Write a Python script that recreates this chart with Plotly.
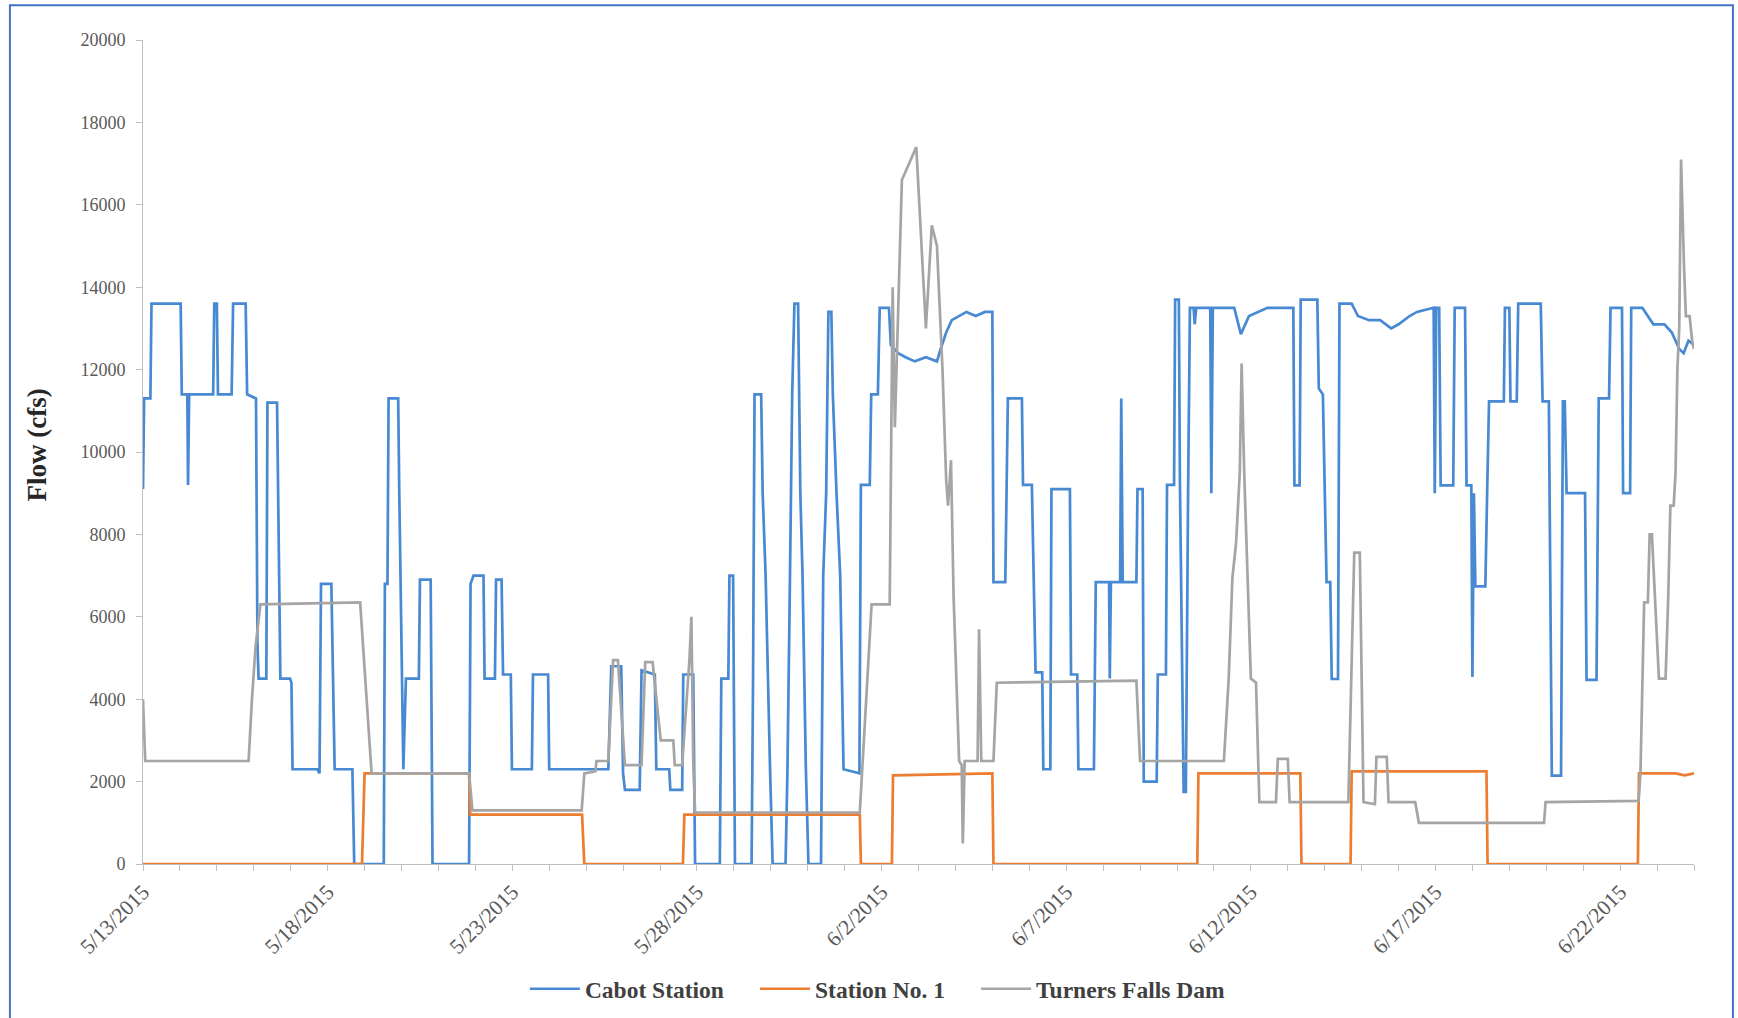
import pandas as pd
import plotly.graph_objects as go

# Flow records, 5/13/2015 - 6/24/2015.  Times are days after midnight 5/13/2015.
START = pd.Timestamp("2015-05-13")
END_DAYS = 42

cabot_days = [
    0.00, 0.03, 0.20, 0.23, 1.02, 1.05, 1.20, 1.22, 1.25, 1.90, 1.93, 2.00, 2.03,
    2.40, 2.44, 2.78, 2.82, 3.06, 3.10, 3.13, 3.34, 3.37, 3.63, 3.66, 3.72, 3.98,
    4.02, 4.05, 4.72, 4.78, 4.82, 5.10, 5.14, 5.19, 5.67, 5.72, 6.52, 6.55, 6.62,
    6.65, 6.91, 6.94, 7.05, 7.12, 7.47, 7.50, 7.79, 7.84, 8.83, 8.87, 8.95, 9.22,
    9.25, 9.53, 9.56, 9.71, 9.75, 9.96, 9.99, 10.53, 10.56, 10.97, 11.00, 12.60,
    12.68, 12.95, 13.00, 13.05, 13.45, 13.50, 13.86, 13.90, 14.25, 14.28, 14.60,
    14.63, 14.90, 14.95, 15.62, 15.66, 15.85, 15.88, 15.98, 16.03, 16.48, 16.52,
    16.56, 16.74, 16.78, 16.86, 16.98, 17.05, 17.40, 17.45, 17.52, 17.58, 17.64,
    17.74, 17.80, 17.86, 17.95, 18.02, 18.36, 18.42, 18.50, 18.56, 18.64, 18.68,
    18.78, 18.88, 18.97, 19.40, 19.44, 19.68, 19.72, 19.90, 19.95, 20.20, 20.25,
    20.45, 20.65, 20.90, 21.20, 21.50, 21.60, 21.75, 21.90, 22.10, 22.30, 22.55,
    22.80, 23.00, 23.03, 23.35, 23.38, 23.42, 23.80, 23.83, 24.07, 24.12, 24.17,
    24.35, 24.38, 24.57, 24.60, 25.10, 25.13, 25.30, 25.33, 25.75, 25.80, 26.16,
    26.18, 26.21, 26.46, 26.49, 26.53, 26.90, 26.93, 27.07, 27.10, 27.45, 27.48,
    27.70, 27.73, 27.92, 27.95, 28.05, 28.08, 28.18, 28.24, 28.30, 28.35, 28.45,
    28.48, 28.52, 28.90, 28.93, 28.97, 29.55, 29.73, 29.95, 30.45, 31.15, 31.18,
    31.32, 31.35, 31.80, 31.84, 31.95, 32.00, 32.05, 32.15, 32.19, 32.36, 32.40,
    32.73, 32.90, 33.20, 33.50, 33.80, 34.00, 34.30, 34.50, 34.95, 34.98, 35.02,
    35.10, 35.14, 35.48, 35.52, 35.80, 35.84, 35.97, 36.00, 36.04, 36.08, 36.35,
    36.40, 36.45, 36.85, 36.88, 37.00, 37.03, 37.20, 37.24, 37.85, 37.90, 38.07,
    38.11, 38.15, 38.40, 38.45, 38.50, 38.55, 39.05, 39.09, 39.36, 39.42, 39.70,
    39.74, 40.05, 40.08, 40.27, 40.30, 40.60, 40.75, 40.90, 41.20, 41.40, 41.60,
    41.72, 41.85, 42.00,
]
cabot_cfs = [
    9100, 11300, 11300, 13600, 13600, 11400, 11400, 9200, 11400, 11400, 13600, 13600, 11400,
    11400, 13600, 13600, 11400, 11300, 5300, 4500, 4500, 11200, 11200, 9100, 4500, 4500,
    4400, 2300, 2300, 2200, 6800, 6800, 4500, 2300, 2300, 0, 0, 6800, 6800,
    11300, 11300, 9000, 2300, 4500, 4500, 6900, 6900, 0, 0, 6800, 7000, 7000,
    4500, 4500, 6900, 6900, 4600, 4600, 2300, 2300, 4600, 4600, 2300, 2300,
    4800, 4800, 2200, 1800, 1800, 4700, 4600, 2300, 2300, 1800, 1800,
    4600, 4600, 0, 0, 4500, 4500, 7000, 7000, 0, 0, 4500,
    11400, 11400, 9000, 7000, 2300, 0, 0, 2200, 7000, 11400, 13600,
    13600, 9000, 7000, 2300, 0, 0, 7000, 9000, 13400, 13400, 11400,
    9000, 7000, 2300, 2200, 9200, 9200, 11400, 11400, 13500, 13500, 12600,
    12400, 12300, 12200, 12300, 12200, 12500, 12900, 13200, 13300, 13400, 13300,
    13400, 13400, 6840, 6840, 9000, 11300, 11300, 9200, 9200, 6900, 4650,
    4650, 2300, 2300, 9100, 9100, 4600, 4600, 2300, 2300, 6840, 6840,
    4500, 6840, 6840, 11300, 6840, 6840, 9100, 9100, 2000, 2000, 4600,
    4600, 9200, 9200, 13700, 13700, 9200, 1750, 1750, 9000, 13500, 13500,
    13100, 13500, 13500, 9000, 13500, 13500, 12860, 13300, 13500, 13500, 9190,
    9190, 13700, 13700, 11540, 11400, 8700, 6840, 6840, 4490, 4490, 13600,
    13600, 13300, 13200, 13200, 13000, 13100, 13300, 13400, 13500, 9000, 13500,
    13500, 9190, 9190, 13500, 13500, 9190, 9190, 4540, 9000, 6740, 6740,
    9090, 11230, 11230, 13500, 13500, 11230, 11230, 13600, 13600, 11230, 11230,
    6800, 2144, 2144, 11230, 11230, 9000, 9000, 4470, 4470, 11300, 11300,
    13500, 13500, 9000, 9000, 13500, 13500, 13300, 13100, 13100, 12900, 12500,
    12400, 12700, 12600,
]

station1_days = [
    0.00, 5.93, 6.00, 8.83, 8.86, 11.89, 11.95, 14.62, 14.66, 19.41, 19.44, 20.28,
    20.31, 21.50, 23.00, 23.03, 28.55, 28.58, 31.34, 31.37, 32.70, 32.73, 36.38,
    36.41, 40.48, 40.51, 41.50, 41.75, 42.00,
]
station1_cfs = [
    0, 0, 2200, 2200, 1200, 1200, 0, 0, 1200, 1200, 0, 0,
    2150, 2180, 2200, 0, 0, 2200, 2200, 0, 0, 2250, 2250,
    0, 0, 2200, 2200, 2150, 2200,
]

turners_days = [
    0.00, 0.06, 2.86, 2.95, 3.05, 3.18, 5.88, 6.19, 8.83, 8.92, 11.88, 11.95,
    12.25, 12.28, 12.60, 12.73, 12.86, 13.05, 13.50, 13.60, 13.80, 14.02, 14.36,
    14.40, 14.60, 14.80, 14.85, 14.90, 14.95, 19.41, 19.73, 20.22, 20.30, 20.36,
    20.55, 20.75, 20.94, 21.20, 21.36, 21.50, 21.65, 21.75, 21.80, 21.88, 21.95,
    22.10, 22.17, 22.20, 22.25, 22.60, 22.64, 22.70, 23.03, 23.12, 26.90, 27.00,
    29.27, 29.40, 29.50, 29.60, 29.70, 29.75, 29.82, 30.00, 30.14, 30.23, 30.68,
    30.73, 31.00, 31.05, 32.64, 32.80, 32.95, 33.05, 33.36, 33.40, 33.68, 33.73,
    34.45, 34.55, 37.94, 37.98, 40.50, 40.55, 40.60, 40.65, 40.75, 40.80, 40.86,
    40.95, 41.05, 41.23, 41.30, 41.36, 41.45, 41.50, 41.55, 41.60, 41.65, 41.73,
    41.78, 41.88, 41.95, 42.00,
]
turners_cfs = [
    4000, 2500, 2500, 4000, 5300, 6300, 6350, 2200, 2200, 1300, 1300, 2200,
    2250, 2500, 2500, 4950, 4950, 2400, 2400, 4900, 4900, 3000, 3000,
    2400, 2400, 5000, 6000, 2500, 1250, 1250, 6300, 6300, 14000, 10600,
    16600, 17000, 17400, 13000, 15500, 15000, 12000, 9300, 8700, 9800, 6500,
    2500, 2400, 500, 2500, 2500, 5700, 2500, 2500, 4400, 4450, 2500,
    2500, 4500, 6940, 7800, 9500, 12150, 9500, 4500, 4400, 1500, 1500,
    2550, 2550, 1500, 1500, 7560, 7560, 1500, 1450, 2600, 2600, 1500,
    1500, 1000, 1000, 1500, 1530, 2200, 4470, 6350, 6350, 8000, 8000,
    6300, 4500, 4500, 6400, 8700, 8700, 9500, 12000, 13000, 17100, 14500,
    13300, 13300, 12700, 12500,
]

# name, times, flows, colour, legend slot, legend left edge (fraction of page width)
series = [
    ("Cabot Station", cabot_days, cabot_cfs, "#4789D2", "legend", 0.302),
    ("Station No. 1", station1_days, station1_cfs, "#ED7D31", "legend2", 0.4344),
    ("Turners Falls Dam", turners_days, turners_cfs, "#A5A5A5", "legend3", 0.5616),
]


def to_time(days):
    return START + pd.to_timedelta(days, unit="D")


FONT = "Liberation Serif"
AXIS_GRAY = "#BFBFBF"

fig = go.Figure()
legends = {}
for name, days, cfs, color, slot, lx in series:
    fig.add_trace(go.Scatter(
        x=to_time(days), y=cfs, mode="lines", name=name, legend=slot,
        line=dict(color=color, width=2.7),
    ))
    legends[slot] = dict(
        orientation="h", xref="container", yref="container",
        x=lx, xanchor="left", y=0.0285, yanchor="middle",
        font=dict(family=FONT, size=23.5, color="#404040", weight="bold"),
        itemwidth=50, bgcolor="rgba(0,0,0,0)",
    )

fig.update_layout(
    width=1738, height=1018,
    margin=dict(l=143, r=44, t=40, b=153.5),
    paper_bgcolor="white", plot_bgcolor="white",
    font=dict(family=FONT, color="#595959"),
    showlegend=True,
    xaxis=dict(
        range=[START, to_time(END_DAYS)],
        automargin=False,
        showgrid=False, zeroline=False,
        showline=True, linecolor=AXIS_GRAY, linewidth=1,
        ticks="outside", ticklen=6, tickcolor=AXIS_GRAY,
        tick0="2015-05-13", dtick=5 * 86400000,
        tickformat="%-m/%-d/%Y", tickangle=-45,
        tickfont=dict(family=FONT, size=21.5, color="#595959"),
        minor=dict(dtick=86400000, ticks="outside", ticklen=6, tickcolor=AXIS_GRAY),
    ),
    yaxis=dict(
        range=[0, 20000], dtick=2000,
        automargin=False,
        showgrid=False, zeroline=False,
        showline=True, linecolor=AXIS_GRAY, linewidth=1,
        ticks="outside", ticklen=6, tickcolor=AXIS_GRAY,
        tickformat="d", ticklabelstandoff=7,
        tickfont=dict(family=FONT, size=18, color="#595959"),
    ),
    # vertical axis caption, set a little above the plot's mid-height
    annotations=[dict(
        text="Flow (cfs)", textangle=-90, showarrow=False,
        xref="paper", yref="paper", x=-0.0686, y=0.5087,
        xanchor="center", yanchor="middle",
        font=dict(family=FONT, size=27, color="#262626", weight="bold"),
    )],
    shapes=[dict(
        type="rect", xref="paper", yref="paper",
        x0=-0.0858, x1=1.0251, y0=-0.25, y1=1.0423,
        line=dict(color="#4472C4", width=2), fillcolor="rgba(0,0,0,0)",
    )],
    **legends,
)

fig.write_html("out.html")
